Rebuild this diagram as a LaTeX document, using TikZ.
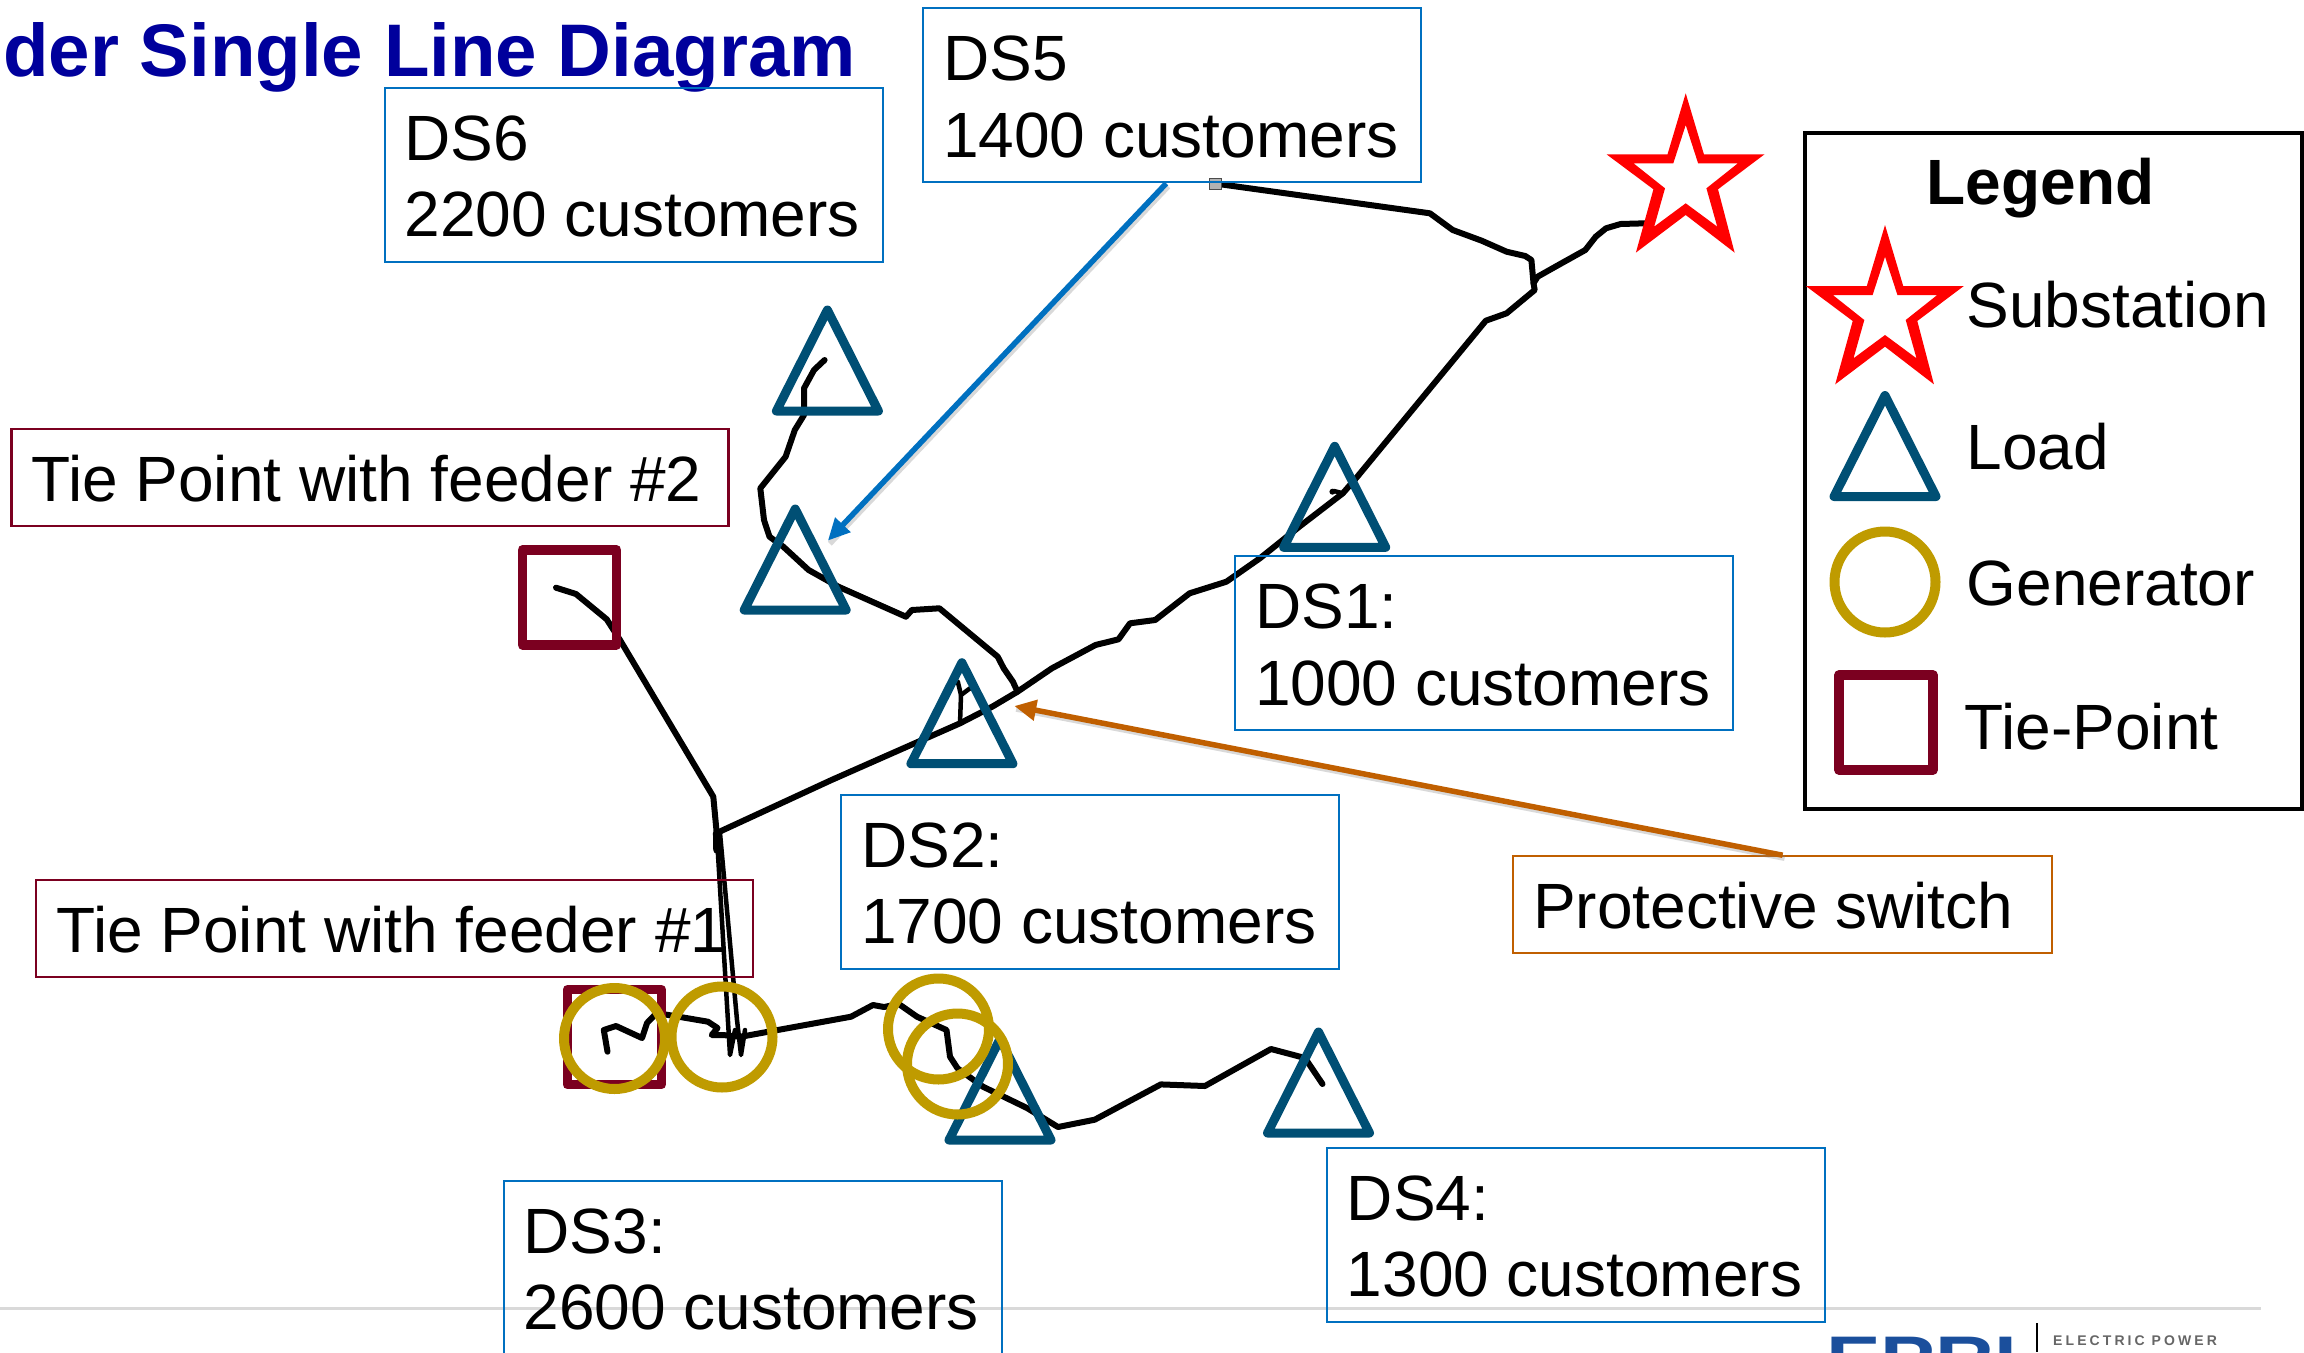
\documentclass[tikz,border=0pt]{standalone}
\usepackage{fontspec}
\setmainfont{Liberation Sans}
\usetikzlibrary{arrows.meta}
\definecolor{boxblue}{HTML}{0070C0}
\definecolor{tiered}{HTML}{7B0020}
\definecolor{loadblue}{HTML}{004F74}
\definecolor{gengold}{HTML}{BF9B00}
\definecolor{switchorange}{HTML}{C05F00}
\definecolor{titleblue}{HTML}{00009C}
\definecolor{epriblue}{HTML}{1B4F9C}
\tikzset{
  x=1pt,y=-1pt,
  lbl/.style={font=\fontsize{64}{76.5}\selectfont,text=black},
  dsbox/.style={lbl,draw=boxblue,line width=2.2pt,anchor=north west,text width=458pt,inner xsep=20pt,inner ysep=0pt,align=flush left,text height=72.5pt,text depth=101.5pt},
  tiebox/.style={lbl,draw=tiered,line width=2.2pt,anchor=north west,text width=677pt,inner xsep=20pt,inner ysep=0pt,align=flush left,text height=72.5pt,text depth=24.5pt},
  switchbox/.style={lbl,draw=switchorange,line width=2.2pt,anchor=north west,text width=499pt,inner xsep=20pt,inner ysep=0pt,align=flush left,text height=72.5pt,text depth=24.5pt},
  legendtext/.style={lbl,anchor=base west,inner sep=0pt},
  feeder/.style={draw=black,line width=6pt,line join=round,line cap=round},
  thinfeeder/.style={feeder,line width=4.5pt},
  loadtri/.pic={\draw[loadblue,line width=9pt,line join=round] (0,0)--(51,101)--(-51,101)--cycle;},
  gencirc/.pic={\draw[gengold,line width=10pt] (0,0) circle[radius=50.5pt];},
  tiesq/.pic={\draw[tiered,line width=9.5pt,line join=round] (-47,-47.5) rectangle (47,47.5);},
  substar/.pic={\fill[red,even odd rule]
     (0,0)--(18.2,61)--(78.8,61)--(32.3,96)--(48.9,159.3)--(0,121.7)--(-49.8,159.3)--(-32.3,96)--(-79.2,61)--(-18.2,61)--cycle
     (0,31.7)--(12.4,70)--(52.2,70)--(20.7,95)--(31.5,133.3)--(0,110)--(-31.5,133.3)--(-20.7,95)--(-52.2,70)--(-12.4,70)--cycle;},
  bluearrow/.style={draw=boxblue,line width=5.5pt,-{Triangle[length=22pt,width=20pt]}},
  orangearrow/.style={draw=switchorange,line width=5.5pt,-{Triangle[length=22pt,width=20pt]}},
  shadowline/.style={draw=gray,opacity=.3,line width=5.5pt},
}
\begin{document}
\begin{tikzpicture}
\useasboundingbox (0,0) rectangle (2304,1352);
\clip (0,0) rectangle (2304,1352);
% footer
\coordinate (footL) at (0,1308.3);
\coordinate (footR) at (2261,1308.3);
\draw[draw=black!15,line width=2.5pt] (footL)--(footR);
\node[anchor=base west,inner sep=0pt,font=\fontsize{63}{63}\bfseries\selectfont,text=epriblue,xscale=1.3] (eprilogo) at (1826,1380) {EPRI};
\coordinate (logoT) at (2037,1323);
\coordinate (logoB) at (2037,1352);
\draw[black,line width=2pt] (logoT)--(logoB);
\node[anchor=base west,inner sep=0pt,font=\fontsize{14}{14}\bfseries\addfontfeatures{LetterSpace=22}\selectfont,text=black!60] (eprihead) at (2053,1345) {ELECTRIC POWER};
% title
\node[anchor=base west,inner sep=0pt,font=\fontsize{74.5}{80}\bfseries\selectfont,text=titleblue] (title) at (3,76) {der Single Line Diagram};
% feeders
\draw[feeder] (1645.4,223.3)--(1620.6,224)--(1606,228.3)--(1595.7,236.7)--(1585.3,250)--(1558.4,265)--(1537.6,276.7)--(1533.5,283.3)
  --(1534.7,290)--(1506.6,313.3)--(1485.8,320.7)--(1357.3,476.7)--(1342.8,493.3)--(1299.3,526.7)--(1259.9,558.3)--(1226.4,581.7)
  --(1189.6,593.3)--(1155.2,620)--(1130,623.3)--(1118.5,639.3)--(1095.5,645)--(1051.9,668.3)--(1017.5,691.7)--(992.2,706.7)--(960,723.3)--(831.5,780)--(716.7,833);
\draw[feeder] (1533.5,283.3)--(1531.4,260)--(1525.2,256)--(1506.6,251.7)--(1481.7,240.7)--(1452.7,230)--(1429.9,213.3)--(1220.5,184.3);
\draw[thinfeeder] (960,723.3)--(961,695)--(957.8,681.7);
\draw[thinfeeder] (961,695)--(970,688.3);
\draw[feeder] (1017.5,691.7)--(1012.9,681.7)--(1003.7,668.3)--(997.7,656.7)--(939.4,608.3)--(911.9,610)--(905.9,616.7)--(838.4,586.7)--(808.6,570)--(783.3,546.7)--(769.5,536.7)--(764,520)--(760.3,488.3)--(785.6,456.7)--(794.8,430)--(804,415)--(804,388.3)--(814,370)--(824.6,360);
\draw[feeder] (556,587.7)--(576,594)--(606.7,619.3)--(620,640)--(713.3,796.7)--(716.7,833);
\draw[thinfeeder] (716.7,833)--(730,1055)--(735,1030);
\draw[thinfeeder] (720,833)--(737,1020)--(741,1055)--(745,1030);
\draw[feeder,line width=7.5pt] (716.7,833)--(717,850);
\draw[feeder] (741,1036.7)--(777.7,1030)--(851,1016.7)--(873,1005)--(884,1007)--(898.8,1004)--(917,1016.7)--(946.5,1030)--(950,1056.7)--(957.5,1068.3)--(983,1086.7)--(1027,1108)--(1058,1127)--(1094.7,1119.7)--(1160.8,1084.4)--(1204.9,1086)--(1271,1049)--(1305,1058)--(1322.5,1084);
\draw[feeder] (741,1036.7)--(722.7,1035)--(711.7,1035)--(717.5,1028)--(708,1021.7)--(678.6,1016.7)--(656.6,1013)--(647,1023)--(642,1038)--(616,1026)--(603.8,1030)--(607.5,1051.7);
\draw[thinfeeder] (1342.8,493.3)--(1334,491);
\fill[black] (1332.4,491.7) circle[radius=3pt];
\draw[fill=black!30,draw=black!70,line width=1.2pt] (1209.5,178.5) rectangle (1221.5,189.5);
% boxes
\node[dsbox] (ds5) at (922.1,7.2) {DS5\\1400 customers};
\node[dsbox] (ds6) at (383.5,86.5) {DS6\\2200 customers};
\node[dsbox] (ds1) at (1234.1,555) {DS1:\\1000 customers};
\node[dsbox] (ds2) at (840,793.8) {DS2:\\1700 customers};
\node[dsbox] (ds3) at (502.5,1179.5) {DS3:\\2600 customers};
\node[dsbox] (ds4) at (1325.8,1146.8) {DS4:\\1300 customers};
\node[tiebox] (tie2) at (10.3,427.5) {Tie Point with feeder \#2};
\node[tiebox] (tie1) at (35.2,878.5) {Tie Point with feeder \#1};
\node[switchbox] (prot) at (1512,855.2) {Protective switch};
% arrows
\coordinate (bluetip) at (827.8,540.7);
\coordinate (orangetip) at (1014.2,706);
\draw[shadowline] ([xshift=-4pt,yshift=-3pt]ds5.south)--([xshift=2pt,yshift=-3pt]bluetip);
\draw[shadowline] ([xshift=2pt,yshift=-3pt]prot.north)--([xshift=2pt,yshift=-3pt]orangetip);
\draw[bluearrow] ([xshift=-6pt]ds5.south)--(bluetip);
\draw[orangearrow] (prot.north)--(orangetip);
% symbols on the map
\pic at (827.4,310) {loadtri};
\pic at (795.2,509) {loadtri};
\pic at (961.9,662.7) {loadtri};
\pic at (1334.7,446.3) {loadtri};
\pic at (1000,1039) {loadtri};
\pic at (1318.5,1032) {loadtri};
\pic at (569.5,597.3) {tiesq};
\pic at (614.4,1037.2) {tiesq};
\pic at (614.5,1038.5) {gencirc};
\pic at (722,1037) {gencirc};
\pic at (938.5,1029) {gencirc};
\pic at (957.5,1064) {gencirc};
\pic at (1685.7,93.3) {substar};
% legend
\node[draw=black,line width=4.5pt,anchor=north west,minimum width=497pt,minimum height=676pt,inner sep=0pt] (legend) at (1802.9,130.5) {};
\node[lbl,anchor=base,inner sep=0pt,font=\fontsize{64}{76.5}\bfseries\selectfont] (legendtitle) at (2040.5,204) {Legend};
\pic at (1885,225) {substar};
\pic at (1885,395.5) {loadtri};
\pic at (1885,582) {gencirc};
\pic at (1886,722.5) {tiesq};
\node[legendtext] (lsub) at (1966.5,327.5) {Substation};
\node[legendtext] (lload) at (1966.5,469) {Load};
\node[legendtext] (lgen) at (1966.5,605.5) {Generator};
\node[legendtext] (ltie) at (1964.5,749.5) {Tie-Point};
\end{tikzpicture}
\end{document}
